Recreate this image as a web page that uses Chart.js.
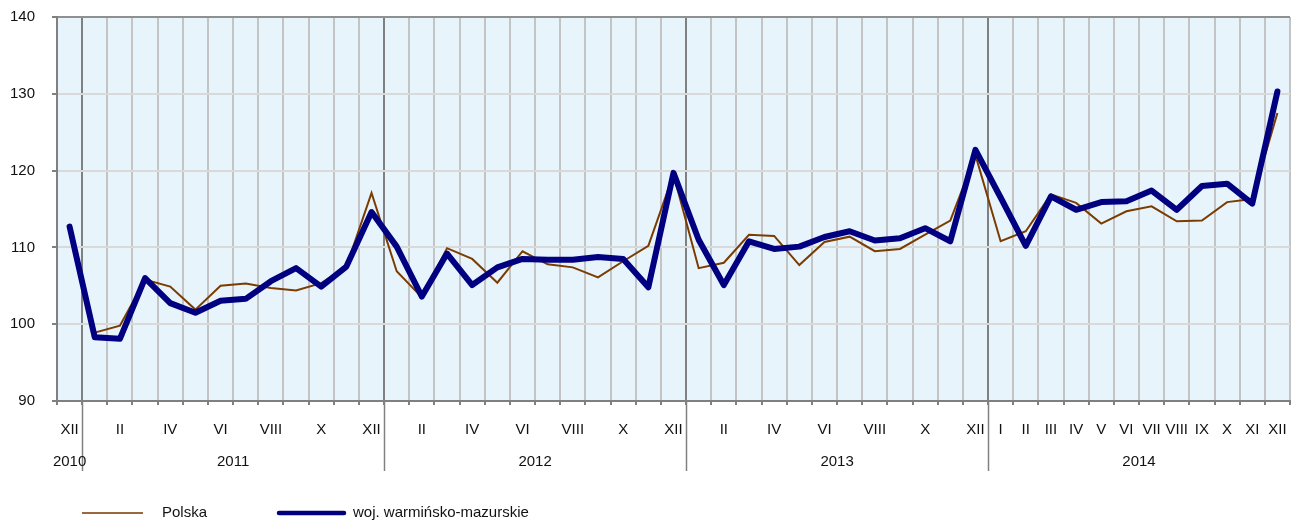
<!DOCTYPE html>
<html>
<head>
<meta charset="utf-8">
<script src="https://cdn.jsdelivr.net/npm/chart.js@4/dist/chart.umd.min.js"></script>
<style>
  html, body { margin: 0; padding: 0; background: #fff; }
  #wrap { width: 1291px; height: 520px; }
</style>
</head>
<body>
<div id="wrap"><canvas id="wykres" width="1291" height="520"></canvas></div>
<script>
// dane
const miesiace = ['XII',
  'I','II','III','IV','V','VI','VII','VIII','IX','X','XI','XII',
  'I','II','III','IV','V','VI','VII','VIII','IX','X','XI','XII',
  'I','II','III','IV','V','VI','VII','VIII','IX','X','XI','XII',
  'I','II','III','IV','V','VI','VII','VIII','IX','X','XI','XII'];
const lata = ['2010', '2011', '2012', '2013', '2014'];

const polska = [null,
  98.9, 99.8, 105.8, 104.9, 101.9, 105.0, 105.3, 104.7, 104.4, 105.35, 107.5, 117.1,
  106.9, 103.5, 109.9, 108.5, 105.4, 109.5, 107.8, 107.4, 106.1, 108.2, 110.2, 119.5,
  107.3, 108.0, 111.65, 111.5, 107.7, 110.7, 111.4, 109.5, 109.8, 111.65, 113.5, 122.0,
  110.8, 112.1, 116.9, 115.8, 113.1, 114.7, 115.35, 113.4, 113.5, 115.9, 116.3, 127.5];

const warminsko = [112.7,
  98.3, 98.1, 106.0, 102.75, 101.5, 103.05, 103.3, 105.6, 107.3, 104.9, 107.5, 114.6,
  110.1, 103.6, 109.2, 105.1, 107.4, 108.5, 108.4, 108.4, 108.75, 108.5, 104.8, 119.7,
  111.0, 105.1, 110.8, 109.8, 110.1, 111.35, 112.1, 110.9, 111.2, 112.5, 110.8, 122.7,
  116.5, 110.2, 116.65, 114.9, 115.9, 116.0, 117.4, 114.9, 118.0, 118.3, 115.7, 130.3];

const yTicks = [90, 100, 110, 120, 130, 140];

// poczatki lat - indeksy gdzie zaczyna sie nowy rok
const poczatkiLat = [0];
miesiace.forEach((m, i) => { if (m === 'I') poczatkiLat.push(i); });

const FONT = '"Liberation Sans", Arial, sans-serif';
const SZARY = '#808080';

const tloWykresu = {
  id: 'tloWykresu',
  beforeDraw(chart) {
    const { ctx, chartArea: a } = chart;
    ctx.save();
    ctx.fillStyle = '#e8f4fb';
    ctx.fillRect(a.left, a.top, a.right - a.left, a.bottom - a.top);
    ctx.restore();
  },
  afterDraw(chart) {
    const { ctx, chartArea: a } = chart;
    const x = chart.scales.x;
    const pol = (x.getPixelForValue(1) - x.getPixelForValue(0)) / 2;
    ctx.save();
    // separatory lat pod osia
    ctx.strokeStyle = SZARY;
    ctx.lineWidth = 1.5;
    poczatkiLat.slice(1).forEach(i => {
      const px = Math.round(x.getPixelForValue(i) - pol) + 0.5;
      ctx.beginPath();
      ctx.moveTo(px, a.bottom);
      ctx.lineTo(px, 471);
      ctx.stroke();
    });
    // etykiety lat
    ctx.fillStyle = '#111';
    ctx.font = '15px ' + FONT;
    ctx.textAlign = 'center';
    ctx.textBaseline = 'middle';
    lata.forEach((rok, k) => {
      const od = poczatkiLat[k];
      const doo = k + 1 < poczatkiLat.length ? poczatkiLat[k + 1] - 1 : miesiace.length - 1;
      const cx = (x.getPixelForValue(od) + x.getPixelForValue(doo)) / 2;
      ctx.fillText(rok, cx, 462);
    });
    // legenda
    ctx.lineCap = 'butt';
    ctx.strokeStyle = '#9a6a3c';
    ctx.lineWidth = 2;
    ctx.beginPath(); ctx.moveTo(82, 513); ctx.lineTo(143, 513); ctx.stroke();
    ctx.lineCap = 'round';
    ctx.strokeStyle = '#000080';
    ctx.lineWidth = 4.5;
    ctx.beginPath(); ctx.moveTo(279, 513); ctx.lineTo(344, 513); ctx.stroke();
    ctx.textAlign = 'left';
    ctx.fillText('Polska', 162, 513);
    ctx.fillText('woj. warmińsko-mazurskie', 353, 513);
    ctx.restore();
  }
};

new Chart(document.getElementById('wykres'), {
  type: 'line',
  data: {
    labels: miesiace,
    datasets: [
      {
        label: 'woj. warmińsko-mazurskie',
        data: warminsko,
        borderColor: '#000080',
        borderWidth: 6,
        borderJoinStyle: 'round',
        borderCapStyle: 'round',
        pointRadius: 0,
        tension: 0,
        order: 0
      },
      {
        label: 'Polska',
        data: polska,
        borderColor: '#7a3c00',
        borderWidth: 2,
        pointRadius: 0,
        tension: 0,
        order: 1
      }
    ]
  },
  options: {
    responsive: false,
    animation: false,
    devicePixelRatio: 1,
    layout: { padding: { top: 17, right: 1, left: 0, bottom: 0 } },
    plugins: { legend: { display: false }, tooltip: { enabled: false } },
    scales: {
      x: {
        offset: true,
        afterFit: (s) => { s.height = 119; s.paddingLeft = 0; s.paddingRight = 0; },
        grid: {
          offset: true,
          lineWidth: 2,
          color: (c) => poczatkiLat.includes(c.index) && c.index > 0 ? SZARY : '#c4c4c4',
          tickColor: SZARY,
          tickLength: 4
        },
        border: { color: SZARY, width: 2 },
        ticks: {
          autoSkip: false,
          maxRotation: 0,
          padding: 16,
          color: '#111',
          font: { family: FONT, size: 15 },
          callback: (v, i) => (i < 37 ? (i % 2 === 0 ? miesiace[i] : '') : miesiace[i])
        }
      },
      y: {
        min: yTicks[0],
        max: yTicks[yTicks.length - 1],
        afterFit: (s) => { s.width = 57; s.paddingTop = 0; s.paddingBottom = 0; },
        afterBuildTicks: (s) => { s.ticks = yTicks.map(v => ({ value: v })); },
        grid: {
          lineWidth: 2,
          color: (c) => c.tick && c.tick.value === 140 ? '#909090' : '#d9d9d9',
          tickColor: SZARY,
          tickLength: 5
        },
        border: { color: SZARY, width: 2 },
        ticks: {
          padding: 17,
          color: '#111',
          font: { family: FONT, size: 15 }
        }
      }
    }
  },
  plugins: [tloWykresu]
});
</script>
</body>
</html>
